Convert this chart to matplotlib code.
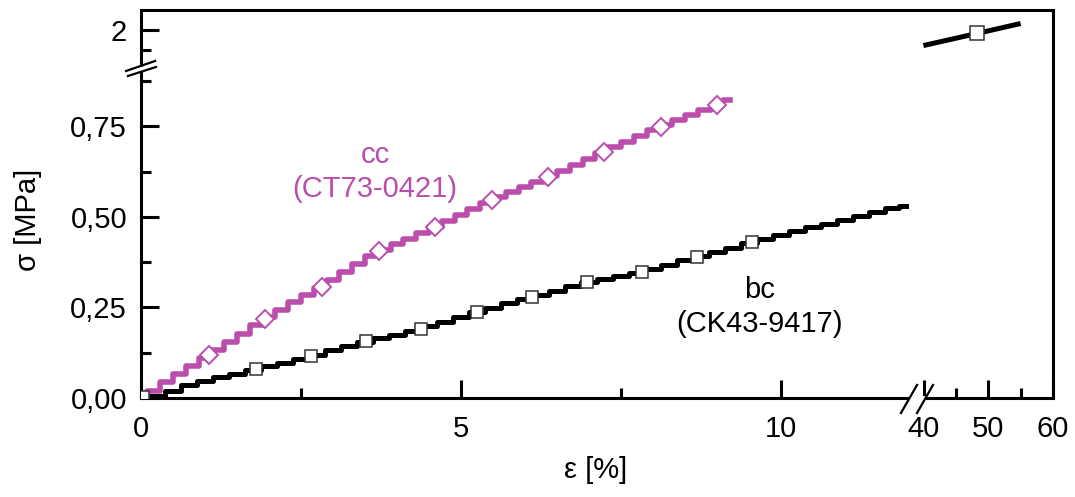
import numpy as np
import matplotlib.pyplot as plt
from matplotlib.ticker import FixedLocator, FixedFormatter

plt.rcParams['font.family'] = ['Liberation Sans', 'DejaVu Sans']

PINK = '#bb4dab'

# cc (CT73-0421) curve, strain [%] vs stress [MPa]
cc_x = [0.0, 0.2, 0.4, 0.6, 0.8, 1.0, 1.2, 1.4, 1.6, 1.8, 2.0, 2.2, 2.4, 2.6, 2.8,
        3.0, 3.2, 3.4, 3.6, 3.8, 4.0, 4.2, 4.4, 4.6, 4.8, 5.0, 5.2, 5.4, 5.6, 5.8,
        6.0, 6.2, 6.4, 6.6, 6.8, 7.0, 7.2, 7.4, 7.6, 7.8, 8.0, 8.2, 8.4, 8.6, 8.8,
        9.0, 9.2]
cc_y = [0.000, 0.020, 0.044, 0.066, 0.089, 0.111, 0.133, 0.156, 0.178, 0.201,
        0.224, 0.244, 0.264, 0.284, 0.304, 0.325, 0.347, 0.369, 0.392, 0.410,
        0.425, 0.440, 0.456, 0.472, 0.489, 0.506, 0.523, 0.540, 0.556, 0.570,
        0.584, 0.598, 0.612, 0.628, 0.645, 0.661, 0.677, 0.693, 0.708, 0.724,
        0.740, 0.755, 0.768, 0.782, 0.795, 0.808, 0.822]
cc_mx = [1.06, 1.94, 2.83, 3.72, 4.59, 5.48, 6.36, 7.23, 8.12, 9.00]
cc_my = [0.119, 0.218, 0.307, 0.405, 0.472, 0.547, 0.610, 0.680, 0.749, 0.809]

# bc (CK43-9417) curve
bc_x = [0.0, 0.25, 0.5, 0.75, 1.0, 1.25, 1.5, 1.75, 2.0, 2.25, 2.5, 2.75, 3.0,
        3.25, 3.5, 3.75, 4.0, 4.25, 4.5, 4.75, 5.0, 5.25, 5.5, 5.75, 6.0, 6.25,
        6.5, 6.75, 7.0, 7.25, 7.5, 7.75, 8.0, 8.25, 8.5, 8.75, 9.0, 9.25, 9.5,
        9.75, 10.0, 10.25, 10.5, 10.75, 11.0, 11.25, 11.5, 11.75, 11.95]
bc_y = [0.000, 0.005, 0.020, 0.035, 0.048, 0.058, 0.066, 0.078, 0.088, 0.097,
        0.108, 0.120, 0.132, 0.143, 0.156, 0.166, 0.175, 0.186, 0.198, 0.209,
        0.224, 0.237, 0.248, 0.262, 0.274, 0.285, 0.296, 0.310, 0.321, 0.328,
        0.336, 0.345, 0.357, 0.368, 0.381, 0.393, 0.404, 0.415, 0.428, 0.440,
        0.451, 0.462, 0.473, 0.482, 0.492, 0.503, 0.514, 0.524, 0.530]
bc_mx = [0.03, 1.80, 2.66, 3.52, 4.375, 5.25, 6.11, 6.97, 7.83, 8.69, 9.55]
bc_my = [0.002, 0.080, 0.116, 0.157, 0.191, 0.238, 0.279, 0.320, 0.348, 0.390, 0.431]

# bc after the breaks (large strain)
bc_top_x = [40.3, 48.2, 54.6]
bc_top_y = [1.906, 1.978, 2.037]
bc_top_mx = [48.2]
bc_top_my = [1.978]

x_ticks = [0, 5, 10, 40, 50, 60]
x_labels = ['0', '5', '10', '40', '50', '60']
x_minor = [2.5, 7.5, 45, 55]
y_ticks = [0, 0.25, 0.5, 0.75, 2]
y_labels = ['0,00', '0,25', '0,50', '0,75', '2']
y_minor = [0.125, 0.375, 0.625, 0.875, 1.875]

FS = 21


def piecewise(src, dst):
    src = np.asarray(src, float)
    dst = np.asarray(dst, float)
    s0 = (dst[1] - dst[0]) / (src[1] - src[0])
    s1 = (dst[-1] - dst[-2]) / (src[-1] - src[-2])

    def f(v):
        v = np.asarray(v, float)
        out = np.interp(v, src, dst)
        out = np.where(v < src[0], dst[0] + (v - src[0]) * s0, out)
        out = np.where(v > src[-1], dst[-1] + (v - src[-1]) * s1, out)
        return out
    return f


# broken axes: compress the gaps 12..38 (x) and 0.905..1.75 (y)
xs, xd = [0, 12, 38, 60], [0, 12, 12.031, 14.25]
ys, yd = [0, 0.905, 1.75, 2.125], [0, 0.905, 0.9062, 1.0718]

fig = plt.figure(figsize=(10.75, 4.97), dpi=100)
ax = fig.add_axes([141 / 1075, 99 / 497, 912 / 1075, 388 / 497])
ax.set_xscale('function', functions=(piecewise(xs, xd), piecewise(xd, xs)))
ax.set_yscale('function', functions=(piecewise(ys, yd), piecewise(yd, ys)))
ax.set_xlim(0, 60)
ax.set_ylim(0, 2.125)

ax.plot(bc_x, bc_y, color='black', lw=3.6, drawstyle='steps-mid', zorder=3)
ax.plot(bc_top_x, bc_top_y, color='black', lw=3.6, zorder=3)
ax.plot(cc_x, cc_y, color=PINK, lw=4.0, drawstyle='steps-mid', zorder=4)

ax.plot(bc_mx, bc_my, ls='none', marker='s', ms=9, mfc='white', mec='#333333',
        mew=1.1, zorder=5)
ax.plot(bc_top_mx, bc_top_my, ls='none', marker='s', ms=9.5, mfc='white',
        mec='#333333', mew=1.1, zorder=5)
ax.plot(cc_mx, cc_my, ls='none', marker='D', ms=9.3, mfc='white', mec=PINK,
        mew=1.4, zorder=6)

ax.text(3.66, 0.624, 'cc\n(CT73-0421)', color=PINK, fontsize=FS, ha='center',
        va='center', multialignment='center', linespacing=1.25)
ax.text(9.67, 0.251, 'bc\n(CK43-9417)', color='black', fontsize=FS, ha='center',
        va='center', multialignment='center', linespacing=1.25)

ax.xaxis.set_major_locator(FixedLocator(x_ticks))
ax.xaxis.set_major_formatter(FixedFormatter(x_labels))
ax.xaxis.set_minor_locator(FixedLocator(x_minor))
ax.yaxis.set_major_locator(FixedLocator(y_ticks))
ax.yaxis.set_major_formatter(FixedFormatter(y_labels))
ax.yaxis.set_minor_locator(FixedLocator(y_minor))

ax.tick_params(which='both', direction='in', top=False, right=False, width=2.2,
               labelsize=FS)
ax.tick_params(which='major', length=13)
ax.tick_params(which='minor', length=7)
ax.tick_params(axis='x', pad=12)
ax.tick_params(axis='y', pad=10)
for sp in ax.spines.values():
    sp.set_linewidth(2.2)

ax.set_xlabel('ε [%]', fontsize=FS)
ax.set_ylabel('σ [MPa]', fontsize=FS)
ax.xaxis.set_label_coords(0.498, -0.186)
ax.xaxis.label.set_va('center')
ax.yaxis.set_label_coords(-0.124, 0.459)
ax.yaxis.label.set_va('center')

# break marks
kw = dict(transform=ax.transAxes, clip_on=False, zorder=10)
ax.plot([0, 0], [0.8415, 0.8557], color='white', lw=3.5, solid_capstyle='butt', **kw)
ax.plot([-0.0164, 0.0154], [0.8428, 0.8686], color='black', lw=1.6, **kw)
ax.plot([-0.0143, 0.0164], [0.8299, 0.8531], color='black', lw=1.6, **kw)
ax.plot([0.842, 0.8596], [0, 0], color='white', lw=3.5, solid_capstyle='butt', **kw)
ax.plot([0.8333, 0.8509], [-0.0387, 0.0335], color='black', lw=1.6, **kw)
ax.plot([0.8509, 0.8684], [-0.0387, 0.0335], color='black', lw=1.6, **kw)

fig.savefig('out.png', dpi=100)
